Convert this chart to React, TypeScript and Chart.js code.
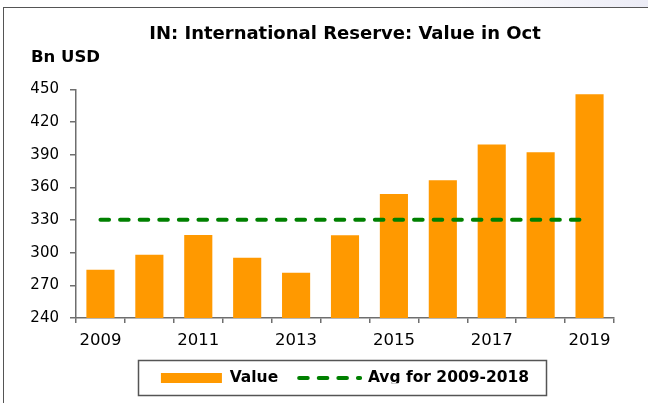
import React, { useEffect, useRef } from 'react';
import { Chart, registerables } from 'chart.js';

Chart.register(...registerables);

const years = ['2009', '2010', '2011', '2012', '2013', '2014', '2015', '2016', '2017', '2018', '2019'];
const values = [284.4, 298.2, 316.3, 295.4, 281.6, 316.0, 354.0, 366.6, 399.5, 392.4, 445.6];
const avgValues = [330.2, 330.2, 330.2, 330.2, 330.2, 330.2, 330.2, 330.2, 330.2, 330.2, 330.2];
const yTicks = [240, 270, 300, 330, 360, 390, 420, 450];
const xLabelYears = ['2009', '2011', '2013', '2015', '2017', '2019'];
const titleText = 'IN: International Reserve: Value in Oct';
const unitText = 'Bn USD';
const seriesNames = ['Value', 'Avg for 2009-2018'];

const FONT = "'DejaVu Sans', sans-serif";
const BAR_COLOR = '#FF9900';
const AVG_COLOR = '#008000';
const AXIS_COLOR = '#6e6e6e';
const AVG_DASH = [8.6, 11];

const legendFrame = {
  id: 'legendFrame',
  afterDraw(chart: any) {
    const lg = chart.legend;
    if (!lg || !lg.legendHitBoxes || !lg.legendHitBoxes.length) return;
    const hb = lg.legendHitBoxes;
    const l = Math.min(...hb.map((h: any) => h.left));
    const r = Math.max(...hb.map((h: any) => h.left + h.width));
    const t = Math.min(...hb.map((h: any) => h.top));
    const b = Math.max(...hb.map((h: any) => h.top + h.height));
    const ctx = chart.ctx;
    ctx.save();
    ctx.strokeStyle = '#555555';
    ctx.lineWidth = 1.5;
    ctx.setLineDash([]);
    ctx.strokeRect(Math.round(l - 23) + 0.5, Math.round(t - 10) + 0.5, Math.round(r - l + 40), Math.round(b - t + 19));
    ctx.restore();
  },
};

export default function App() {
  const canvasRef = useRef<HTMLCanvasElement | null>(null);

  useEffect(() => {
    const canvas = canvasRef.current;
    if (!canvas) return;
    const chart = new Chart(canvas, {
      type: 'bar',
      data: {
        labels: years,
        datasets: [
          {
            type: 'bar',
            label: seriesNames[0],
            data: values,
            backgroundColor: BAR_COLOR,
            borderWidth: 0,
            barPercentage: 0.575,
            categoryPercentage: 1,
            pointStyle: 'rect',
            order: 1,
          } as any,
          {
            type: 'line',
            label: seriesNames[1],
            data: avgValues,
            borderColor: AVG_COLOR,
            backgroundColor: AVG_COLOR,
            borderWidth: 4,
            borderDash: AVG_DASH,
            borderCapStyle: 'round',
            pointRadius: 0,
            pointHoverRadius: 0,
            pointStyle: 'line',
            fill: false,
            order: 0,
          } as any,
        ],
      },
      options: {
        responsive: false,
        animation: false,
        devicePixelRatio: 1,
        events: [],
        layout: { padding: { left: 31, right: 34, top: 0, bottom: 19.75 } },
        scales: {
          x: {
            offset: true,
            grid: {
              offset: true,
              drawOnChartArea: false,
              drawTicks: true,
              tickLength: 5,
              color: AXIS_COLOR,
              lineWidth: 1.5,
            },
            border: { color: AXIS_COLOR, width: 1.5 },
            ticks: {
              autoSkip: false,
              maxRotation: 0,
              minRotation: 0,
              padding: 8,
              color: '#000000',
              font: { family: FONT, size: 16.5 },
              callback: (_v: any, i: number) => (xLabelYears.includes(years[i]) ? years[i] : ''),
            },
            afterFit: (s: any) => {
              s.height = 31.25;
            },
          },
          y: {
            min: 240,
            max: 450,
            grid: {
              drawOnChartArea: false,
              drawTicks: true,
              tickLength: 6,
              color: AXIS_COLOR,
              lineWidth: 1.5,
            },
            border: { color: AXIS_COLOR, width: 1.5 },
            ticks: {
              padding: 11,
              color: '#000000',
              font: { family: FONT, size: 15 },
            },
            afterBuildTicks: (s: any) => {
              s.ticks = yTicks.map((v) => ({ value: v }));
            },
            afterFit: (s: any) => {
              s.width = 45;
            },
          },
        },
        plugins: {
          tooltip: { enabled: false },
          title: {
            display: true,
            text: titleText,
            fullSize: false,
            align: 'center',
            color: '#000000',
            font: { family: FONT, size: 18, weight: 'bold', lineHeight: 1.2 },
            padding: { top: 23.7, bottom: 0 },
          },
          subtitle: {
            display: true,
            text: unitText,
            fullSize: true,
            align: 'start',
            color: '#000000',
            font: { family: FONT, size: 16.5, weight: 'bold', lineHeight: 1.2 },
            padding: { top: 2.3, bottom: 22.1 },
          },
          legend: {
            display: true,
            position: 'bottom',
            align: 'center',
            fullSize: false,
            maxHeight: 34,
            labels: {
              usePointStyle: true,
              pointStyleWidth: 61,
              boxHeight: 10,
              padding: 21,
              color: '#000000',
              font: { family: FONT, size: 15.5, weight: 'bold' },
              sort: (a: any, b: any) => a.datasetIndex - b.datasetIndex,
              generateLabels: (c: any) => {
                const items = Chart.defaults.plugins.legend.labels.generateLabels(c);
                items.forEach((it: any) => {
                  if (it.datasetIndex === 1) {
                    it.lineDash = AVG_DASH;
                    it.lineCap = 'round';
                    it.lineWidth = 4;
                    it.strokeStyle = AVG_COLOR;
                    it.pointStyle = 'line';
                  } else {
                    it.lineWidth = 0;
                    it.fillStyle = BAR_COLOR;
                    it.pointStyle = 'rect';
                  }
                });
                return items;
              },
            },
          },
        },
      } as any,
      plugins: [legendFrame],
    });
    return () => chart.destroy();
  }, []);

  return (
    <div style={{ position: 'fixed', left: 0, top: 0, width: 648, height: 403, background: '#ffffff', overflow: 'hidden' }}>
      <div style={{ position: 'absolute', left: 0, top: 0, width: 648, height: 8, background: 'linear-gradient(to right, #ffffff 70%, #ececf6 100%)' }} />
      <div style={{ position: 'absolute', left: 3, top: 7, width: 700, height: 500, borderLeft: '1.5px solid #555555', borderTop: '1.5px solid #555555', boxSizing: 'border-box' }} />
      <canvas ref={canvasRef} width={648} height={403} style={{ position: 'absolute', left: 0, top: 0, width: 648, height: 403 }} />
    </div>
  );
}
